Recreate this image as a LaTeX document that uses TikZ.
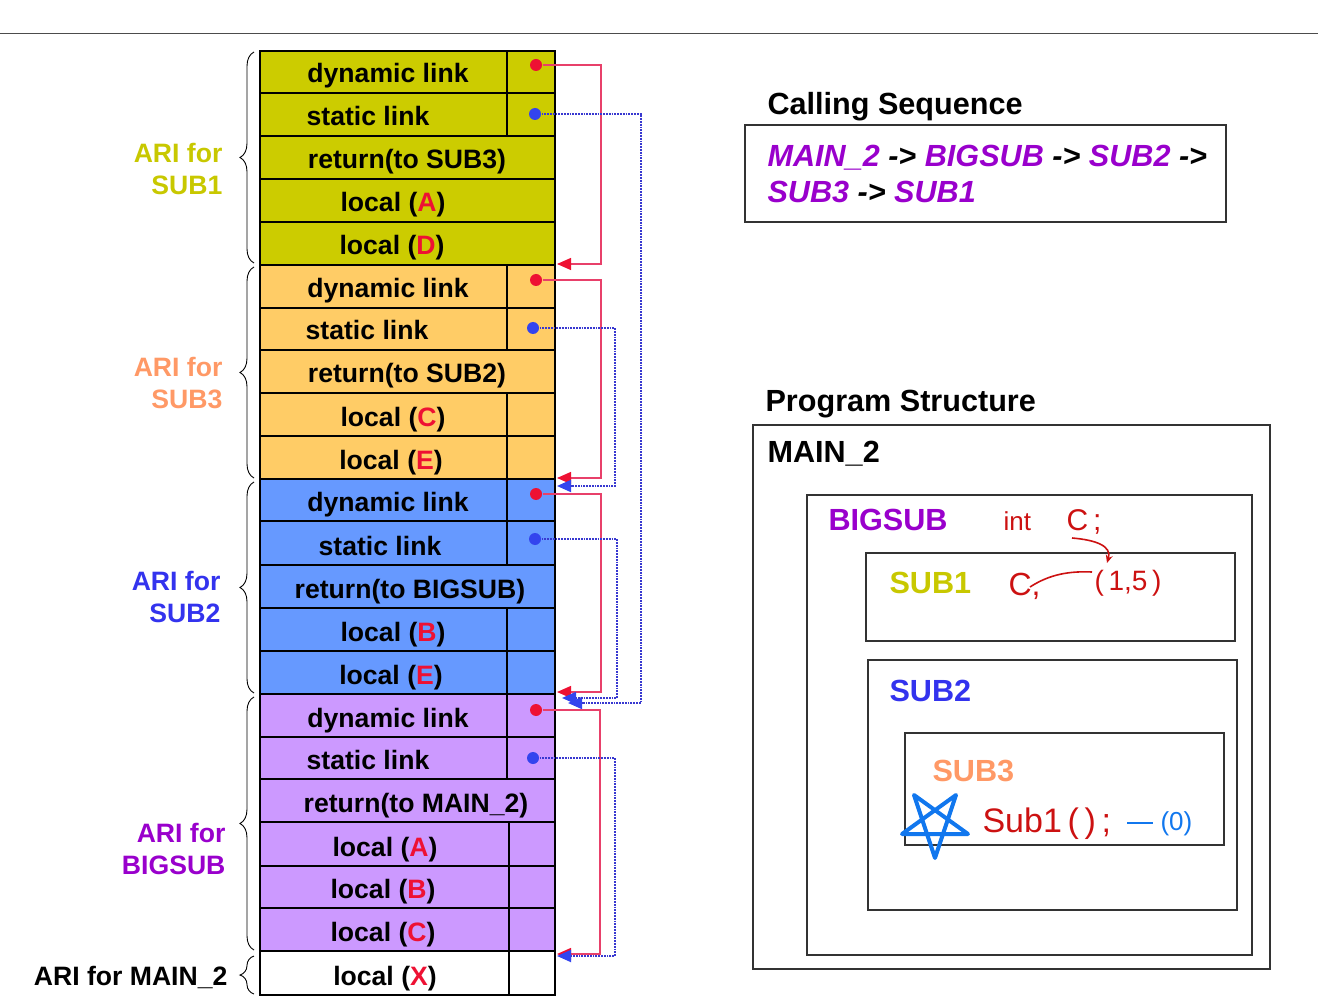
\documentclass[tikz,border=0pt]{standalone}
\usepackage{fontspec}
\setmainfont{Liberation Sans}
\usetikzlibrary{arrows.meta, positioning, calc, decorations.pathreplacing}
\definecolor{subone}{HTML}{CCCC00}
\definecolor{subthree}{HTML}{FFCC66}
\definecolor{subtwo}{HTML}{6699FF}
\definecolor{bigsub}{HTML}{CC99FF}
\definecolor{txtone}{HTML}{C8C800}
\definecolor{txtthree}{HTML}{FF9966}
\definecolor{txttwo}{HTML}{3333EE}
\definecolor{txtbig}{HTML}{9900CC}
\definecolor{varred}{HTML}{EE1133}
\definecolor{dynred}{HTML}{E8406A}
\definecolor{statblue}{HTML}{3838D0}
\definecolor{dotblue}{HTML}{3344EE}
\definecolor{penred}{HTML}{CC1111}
\definecolor{penblue}{HTML}{1177EE}

\begin{document}
\begin{tikzpicture}[x=1pt, y=-1pt, line width=1.1pt,
    cell/.style={font=\fontsize{26.6}{30}\selectfont\bfseries, anchor=base, inner sep=0pt},
    ari/.style={font=\fontsize{26.6}{32}\selectfont\bfseries, align=right, anchor=east, inner sep=0pt},
    head/.style={font=\fontsize{30.6}{36}\selectfont\bfseries, anchor=base west, inner sep=0pt},
    seq/.style={font=\fontsize{30.6}{36}\selectfont\bfseries\itshape, anchor=base west, inner sep=0pt},
    pen/.style={font=\fontsize{#1}{#1}\selectfont, anchor=base west, inner sep=0pt, text=penred},
    dot/.style={circle, inner sep=0pt, minimum size=12pt},
    dynlink/.style={draw=dynred, line width=1.3pt, -{Triangle[length=14pt, width=12pt, color=varred]}},
    statlink/.style={draw=statblue, line width=1.8pt, densely dotted, -{Triangle[length=14pt, width=12pt, color=dotblue]}},
    brc/.style={decorate, decoration={brace, amplitude=14pt}, line width=0.9pt},
    box/.style={draw=black!80, line width=1.3pt}]
    \useasboundingbox (0,0) rectangle (1318,1000);

    % Top rule
    \draw[black!70, line width=0.8pt] (0,33) -- (1318,33);

    % ARI for SUB1
    \foreach \ya/\yb/\tx/\txt [count=\i] in {51/93/388/{dynamic link}, 93/136/368/{static link},
        136/179/407/{return(to SUB3)}, 179/222/393/{local (\textcolor{varred}{A})}, 222/265/392/{local (\textcolor{varred}{D})}} {
        \draw[fill=subone] (260,\ya) rectangle (555,\yb);
        \node[cell] (one\i) at (\tx,\yb-10) {\txt};
    }
    \draw (507,51) -- (507,136);

    % ARI for SUB3
    \foreach \ya/\yb/\tx/\txt [count=\i] in {265/308/388/{dynamic link}, 308/350/367/{static link},
        350/393/407/{return(to SUB2)}, 393/436/393/{local (\textcolor{varred}{C})}, 436/479/391/{local (\textcolor{varred}{E})}} {
        \draw[fill=subthree] (260,\ya) rectangle (555,\yb);
        \node[cell] (three\i) at (\tx,\yb-10) {\txt};
    }
    \draw (507,265) -- (507,350) (507,393) -- (507,479);

    % ARI for SUB2
    \foreach \ya/\yb/\tx/\txt [count=\i] in {479/521/388/{dynamic link}, 521/565/380/{static link},
        565/608/410/{return(to BIGSUB)}, 608/651/393/{local (\textcolor{varred}{B})}, 651/694/391/{local (\textcolor{varred}{E})}} {
        \draw[fill=subtwo] (260,\ya) rectangle (555,\yb);
        \node[cell] (two\i) at (\tx,\yb-10) {\txt};
    }
    \draw (507,479) -- (507,565) (507,608) -- (507,694);

    % ARI for BIGSUB and MAIN_2
    \foreach \ya/\yb/\tx/\txt [count=\i] in {694/737/388/{dynamic link}, 737/779/368/{static link},
        779/822/416/{return(to MAIN\_2)}, 822/866/385/{local (\textcolor{varred}{A})},
        866/908/383/{local (\textcolor{varred}{B})}, 908/951/383/{local (\textcolor{varred}{C})}} {
        \draw[fill=bigsub] (260,\ya) rectangle (555,\yb);
        \node[cell] (big\i) at (\tx,\yb-10) {\txt};
    }
    \draw[fill=white] (260,951) rectangle (555,995);
    \node[cell] (mainx) at (385,985) {local (\textcolor{varred}{X})};
    \draw (507,694) -- (507,779) (509,822) -- (509,995);

    % Braces and ARI labels
    \draw[brc] (254,263) -- (254,52);
    \draw[brc] (254,478) -- (254,267);
    \draw[brc] (254,693) -- (254,482);
    \draw[brc] (254,950) -- (254,697);
    \draw[brc] (254,994) -- (254,956);
    \node[ari, text=txtone] (arione) at (223,169) {ARI for\\SUB1};
    \node[ari, text=txtthree] (arithree) at (223,383) {ARI for\\SUB3};
    \node[ari, text=txttwo] (aritwo) at (221,597) {ARI for\\SUB2};
    \node[ari, text=txtbig] (aribig) at (226,849) {ARI for\\BIGSUB};
    \node[ari, anchor=base east] (arimain) at (228,985) {ARI for MAIN\_2};

    % Link pointers
    \node[dot, fill=varred] (dyn1) at (536,65) {};
    \node[dot, fill=dotblue] (stat1) at (535,114) {};
    \node[dot, fill=varred] (dyn3) at (536,280) {};
    \node[dot, fill=dotblue] (stat3) at (533,328) {};
    \node[dot, fill=varred] (dyn2) at (536,494) {};
    \node[dot, fill=dotblue] (stat2) at (535,539) {};
    \node[dot, fill=varred] (dynb) at (536,710) {};
    \node[dot, fill=dotblue] (statb) at (533,758) {};
    \coordinate (dr1) at (601,264);  \coordinate (dt1) at (557,264);
    \coordinate (sr1) at (641,703);  \coordinate (st1) at (568,703);
    \coordinate (dr3) at (601,478);  \coordinate (dt3) at (557,478);
    \coordinate (sr3) at (615,486);  \coordinate (st3) at (557,486);
    \coordinate (dr2) at (601,692);  \coordinate (dt2) at (557,692);
    \coordinate (sr2) at (617,698);  \coordinate (st2) at (562,698);
    \coordinate (drb) at (600,954);  \coordinate (dtb) at (557,954);
    \coordinate (srb) at (615,956);  \coordinate (stb) at (557,956);
    \draw[dynlink] (dyn1) -| (dr1) -- (dt1);
    \draw[statlink] (stat1) -| (sr1) -- (st1);
    \draw[dynlink] (dyn3) -| (dr3) -- (dt3);
    \draw[statlink] (stat3) -| (sr3) -- (st3);
    \draw[dynlink] (dyn2) -| (dr2) -- (dt2);
    \draw[statlink] (stat2) -| (sr2) -- (st2);
    \draw[dynlink] (dynb) -| (drb) -- (dtb);
    \draw[statlink] (statb) -| (srb) -- (stb);

    % Calling sequence
    \node[head] (callhead) at (767,115) {Calling Sequence};
    \draw[box] (745,125) rectangle (1226,222);
    \node[seq] (seq1) at (767,167) {\textcolor{txtbig}{MAIN\_2} -> \textcolor{txtbig}{BIGSUB} -> \textcolor{txtbig}{SUB2} ->};
    \node[seq] (seq2) at (767,203) {\textcolor{txtbig}{SUB3} -> \textcolor{txtbig}{SUB1}};

    % Program structure
    \node[head] (proghead) at (765,411) {Program Structure};
    \draw[box] (753,425) rectangle (1270,969);
    \draw[box] (807,495) rectangle (1252,955);
    \draw[box] (866,553) rectangle (1235,641);
    \draw[box] (868,660) rectangle (1237,910);
    \draw[box] (905,733) rectangle (1224,845);
    \node[head] (pmain) at (767,462) {MAIN\_2};
    \node[head, text=txtbig] (pbig) at (828,530) {BIGSUB};
    \node[head, text=txtone] (pone) at (889,593) {SUB1};
    \node[head, text=txttwo] (ptwo) at (889,701) {SUB2};
    \node[head, text=txtthree] (pthree) at (932,781) {SUB3};

    % Pen notes
    \node[pen=26] (pint) at (1003,530) {int};
    \node[pen=30] (pdecl) at (1066,530) {C\,;};
    \node[pen=32] (pcuse) at (1008,595) {C,};
    \node[pen=28] (pscope) at (1094,590) {(\,1,5\,)};
    \draw[penred, line width=1.6pt, -{Stealth[length=8pt, width=7pt]}] (1072,538) .. controls (1096,540) and (1112,546) .. (1107,563);
    \draw[penred, line width=1.6pt] (1030,587) .. controls (1050,574) and (1070,571) .. (1092,572);
    \draw[penblue, line width=4pt, line join=round, line cap=round]
        (935,858) -- (914,795) -- (968,834) -- (902,834) -- (956,795) -- cycle;
    \node[pen=34] (pcall) at (982,832) {Sub1\,(\,)\,;};
    \draw[penblue, line width=1.6pt] (1127,823) -- (1153,823);
    \node[pen=26, text=penblue] (pzero) at (1160,830) {(0)};
\end{tikzpicture}
\end{document}
